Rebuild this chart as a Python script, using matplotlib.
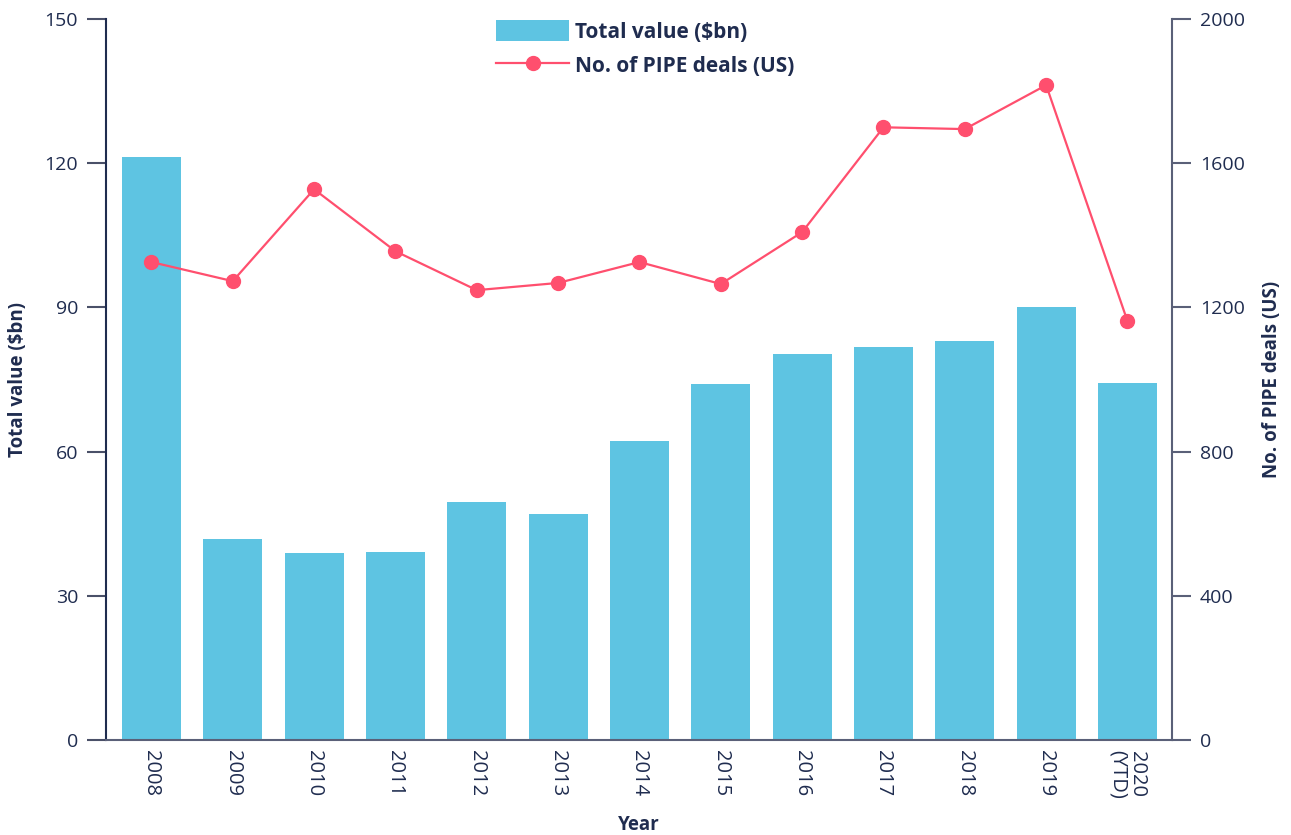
import matplotlib
matplotlib.use("Agg")
import matplotlib.pyplot as plt
import numpy as np

years = ["2008", "2009", "2010", "2011", "2012", "2013", "2014", "2015",
         "2016", "2017", "2018", "2019", "2020\n(YTD)"]
total_value = [121.3, 41.8, 38.9, 39.1, 49.5, 47.0, 62.2, 74.1, 80.3, 81.8, 83.0, 90.1, 74.3]
pipe_deals = [1326, 1273, 1528, 1356, 1248, 1268, 1326, 1265, 1409, 1700, 1695, 1817, 1162]

left_ticks = [0, 30, 60, 90, 120, 150]
right_ticks = [0, 400, 800, 1200, 1600, 2000]

plt.rcParams['font.family'] = ['Open Sans', 'DejaVu Sans']
navy = "#1f2c4f"
bar_c = "#5ec4e2"
line_c = "#ff4f6e"

fig = plt.figure(figsize=(12.91, 8.35), dpi=100)
ax = fig.add_axes([0.082, 0.114, 0.826, 0.863])
x = np.arange(len(years))
b = ax.bar(x, total_value, width=0.725, color=bar_c, label="Total value ($bn)", zorder=2)
ax.set_xlim(-0.56, 12.55)
ax.set_ylim(0, 150)
ax.set_yticks(left_ticks)
ax.set_xticks(x)
ax.set_xticklabels(years, rotation=270, fontsize=14.5, color=navy, va="top", ha="center",
                   linespacing=0.95)
ax.tick_params(axis="x", length=0, pad=7)
ax.tick_params(axis="y", length=14, width=1.5, color="#4a5068", labelsize=14, labelcolor=navy, pad=6)
for s in ["top", "right"]:
    ax.spines[s].set_visible(False)
ax.spines["left"].set_color(navy)
ax.spines["left"].set_linewidth(1.5)
ax.spines["bottom"].set_color("#5a6078")
ax.spines["bottom"].set_linewidth(1.5)
ax.set_ylabel("Total value ($bn)", fontsize=13.5, fontweight="bold", color=navy, labelpad=12)
ax.set_xlabel("Year", fontsize=13.5, fontweight="bold", color=navy, labelpad=12)

ax2 = ax.twinx()
l, = ax2.plot(x, pipe_deals, color=line_c, marker="o", markersize=10, linewidth=1.6,
              label="No. of PIPE deals (US)", zorder=3)
ax2.set_ylim(0, 2000)
ax2.set_yticks(right_ticks)
ax2.tick_params(axis="y", length=14, width=1.5, color="#5a6078", labelsize=14, labelcolor=navy, pad=6)
for s in ["top", "left", "bottom"]:
    ax2.spines[s].set_visible(False)
ax2.spines["right"].set_color("#5a6078")
ax2.spines["right"].set_linewidth(1.5)
ax2.set_ylabel("No. of PIPE deals (US)", fontsize=13.5, fontweight="bold", color=navy,
               rotation=90, labelpad=12)

leg = ax2.legend([b, l], ["Total value ($bn)", "No. of PIPE deals (US)"],
                 loc="upper left", bbox_to_anchor=(0.366, 0.999), frameon=False,
                 borderpad=0, borderaxespad=0,
                 fontsize=15, handlelength=3.5, handleheight=1.2, labelspacing=0.55,
                 handletextpad=0.3)
for t in leg.get_texts():
    t.set_color(navy)
    t.set_fontweight("bold")

fig.savefig("out.png", dpi=100)
